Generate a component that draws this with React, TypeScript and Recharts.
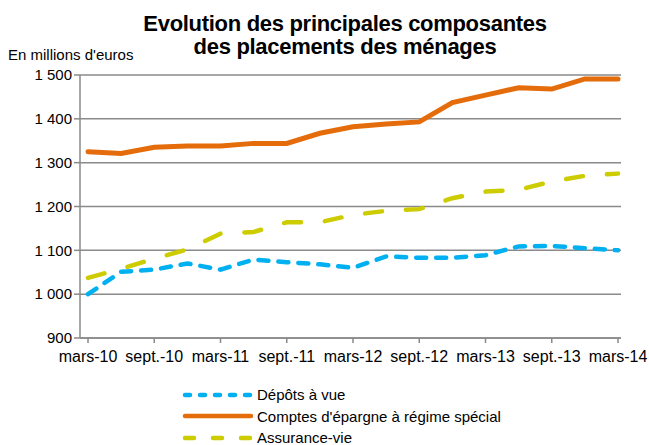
import React from 'react';
import { LineChart, Line, XAxis, YAxis, CartesianGrid, Legend } from 'recharts';

// quarterly points, labels shown every 2 quarters
const quarters = [
  'mars-10', 'juin-10', 'sept.-10', 'déc.-10',
  'mars-11', 'juin-11', 'sept.-11', 'déc.-11',
  'mars-12', 'juin-12', 'sept.-12', 'déc.-12',
  'mars-13', 'juin-13', 'sept.-13', 'déc.-13',
  'mars-14',
];
const depotsAVue = [1000, 1051, 1056, 1070, 1056, 1079, 1073, 1068, 1060, 1086, 1083, 1083, 1089, 1109, 1110, 1105, 1100];
const comptesEpargne = [1325, 1321, 1335, 1338, 1338, 1344, 1344, 1367, 1382, 1388, 1393, 1437, 1454, 1471, 1468, 1491, 1491];
const assuranceVie = [1037, 1058, 1081, 1102, 1138, 1142, 1164, 1164, 1181, 1190, 1194, 1219, 1234, 1238, 1257, 1270, 1275];
const yTicks = [900, 1000, 1100, 1200, 1300, 1400, 1500];
const titleLines = ['Evolution des principales composantes', 'des placements des ménages'];

const data = quarters.map((q, i) => ({
  q,
  depots: depotsAVue[i],
  comptes: comptesEpargne[i],
  assurance: assuranceVie[i],
}));

const FONT = '"Liberation Sans", Arial, sans-serif';
const GRID = '#8a8a8a';

const series = [
  { key: 'depots', name: 'Dépôts à vue', color: '#00B0F0', dash: '10 10', legendDash: '5 10' },
  { key: 'comptes', name: "Comptes d'épargne à régime spécial", color: '#E46C0A', dash: undefined, legendDash: undefined },
  { key: 'assurance', name: 'Assurance-vie', color: '#CCCC00', dash: '17 24', legendDash: '9 19' },
];

// 1500 -> "1 500"
const fmt = (v: number) => (v >= 1000 ? `${Math.floor(v / 1000)} ${String(v % 1000).padStart(3, '0')}` : String(v));

function LegendBox() {
  return (
    <div style={{ fontFamily: FONT, fontSize: 15, color: '#000' }}>
      {series.map(s => (
        <div key={s.key} style={{ display: 'flex', alignItems: 'center', height: 21.5 }}>
          <svg width={76} height={8}>
            <line x1={4} y1={4} x2={70} y2={4} stroke={s.color} strokeWidth={4.5}
              strokeDasharray={s.legendDash} strokeLinecap="round" />
          </svg>
          <span>{s.name}</span>
        </div>
      ))}
    </div>
  );
}

export default function App() {
  return (
    <div style={{ position: 'absolute', left: 0, top: 0, width: 649, height: 445, background: '#fff', overflow: 'hidden' }}>
      {titleLines.map((t, i) => (
        <div key={i} style={{
          position: 'absolute', left: 45, top: 12 + i * 23, width: 600, height: 23, textAlign: 'center',
          fontFamily: FONT, fontWeight: 'bold', fontSize: 22, lineHeight: '23px', letterSpacing: -0.3, color: '#000',
        }}>
          {t}
        </div>
      ))}
      <div style={{ position: 'absolute', left: 8, top: 46, fontFamily: FONT, fontSize: 15, color: '#000' }}>
        En millions d'euros
      </div>
      <LineChart width={649} height={445} data={data} margin={{ top: 75, right: 28, bottom: 77, left: 0 }}>
        <CartesianGrid vertical={false} stroke={GRID} strokeWidth={1.5} />
        <XAxis
          dataKey="q"
          interval={1}
          height={30}
          padding={{ left: 8, right: 3 }}
          axisLine={{ stroke: GRID, strokeWidth: 1.5 }}
          tickLine={{ stroke: GRID, strokeWidth: 1.5 }}
          tickSize={5}
          tickMargin={8}
          tick={{ fill: '#000', fontSize: 16, fontFamily: FONT }}
        />
        <YAxis
          domain={[900, 1500]}
          ticks={yTicks}
          width={80}
          tickFormatter={fmt}
          axisLine={{ stroke: GRID, strokeWidth: 1.5 }}
          tickLine={{ stroke: GRID, strokeWidth: 1.5 }}
          tickSize={6}
          tick={{ fill: '#000', fontSize: 15, fontFamily: FONT }}
        />
        <YAxis
          yAxisId="r"
          orientation="right"
          domain={[900, 1500]}
          width={0}
          tick={false}
          tickLine={false}
          axisLine={{ stroke: GRID, strokeWidth: 1.5 }}
        />
        {series.map(s => (
          <Line
            key={s.key}
            dataKey={s.key}
            name={s.name}
            stroke={s.color}
            strokeWidth={s.key === 'comptes' ? 5 : 4.5}
            strokeDasharray={s.dash}
            strokeLinecap="round"
            dot={false}
            activeDot={false}
            isAnimationActive={false}
          />
        ))}
        <Legend
          layout="vertical"
          align="center"
          verticalAlign="middle"
          content={() => <LegendBox />}
          wrapperStyle={{ top: 384, left: 181, width: 420 }}
        />
      </LineChart>
    </div>
  );
}
